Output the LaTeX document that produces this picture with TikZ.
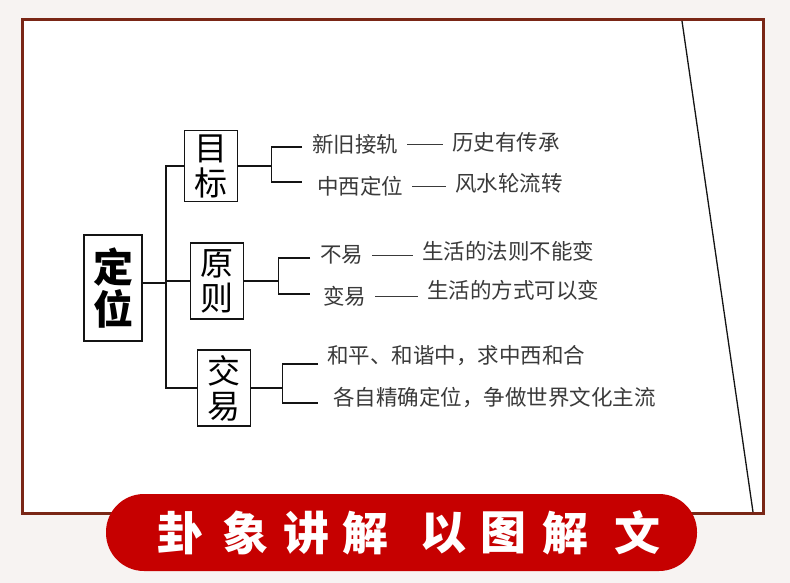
\documentclass[tikz,border=0pt]{standalone}
\usepackage{fontspec}
\setmainfont{Noto Sans CJK SC}
\usetikzlibrary{positioning}
\definecolor{Paper}{HTML}{F7F3F2}
\definecolor{Frame}{HTML}{7A2616}
\definecolor{Banner}{HTML}{C60000}
\definecolor{Ink}{HTML}{141414}
\definecolor{Lead}{HTML}{3A3A3A}
\tikzset{
  rootbox/.style={
    draw=Ink, line width=1.8pt, fill=white, inner sep=0pt,
    minimum width=58pt, minimum height=106pt, align=center,
    font=\fontsize{40}{42}\selectfont\bfseries
  },
  topicbox/.style={
    draw=Ink, line width=1.8pt, fill=white, inner sep=0pt,
    minimum width=53pt, minimum height=74pt, align=center,
    font=\fontsize{33}{35}\selectfont
  },
  item/.style={anchor=west, inner sep=0pt, text=Lead, font=\fontsize{21.5}{23}\selectfont},
  branch/.style={draw=Ink, line width=1.6pt},
  dashlink/.style={draw=Lead, line width=0.9pt, shorten <=9pt, shorten >=9pt},
  seal/.style={text=white, font=\fontsize{46}{48}\selectfont\bfseries}
}

\begin{document}
\begin{tikzpicture}[x=1pt,y=-1pt]
  \useasboundingbox (0,0) rectangle (790,583);
  % page and frame
  \fill[Paper] (0,0) rectangle (790,583);
  \fill[white] (22,20) rectangle (763,513);
  \draw[Frame, line width=3pt] (22,20) rectangle (763,513);
  \draw[Ink, line width=1.3pt] (682,21) -- (753,512);

  % tree
  \node[rootbox] (root) at (113,288) {定\\位};
  \node[topicbox, minimum height=71pt] (goal) at (211,166) {目\\标};
  \node[topicbox, minimum height=76pt] (rule) at (217,281) {原\\则};
  \node[topicbox, minimum height=76pt] (swap) at (224,388) {交\\易};
  \coordinate (spine) at (166,283);
  \draw[branch] (root.east |- spine) -- (spine);
  \draw[branch] (goal.west) -| (spine) |- (swap.west);
  \draw[branch] (spine |- rule.west) -- (rule.west);

  % goal items
  \node[item] (g1) at (312,144) {新旧接轨};
  \node[item] (g1r) at (452,142) {历史有传承};
  \node[item] (g2) at (317,186) {中西定位};
  \node[item] (g2r) at (455,183) {风水轮流转};
  \draw[branch] (goal.east) -- ++(33,0) coordinate (gfork);
  \draw[branch] (302,147) -| (gfork) |- (302,182);
  \draw[dashlink] (g1.east) -- (g1.east -| g1r.west);
  \draw[dashlink] (g2.east) -- (g2.east -| g2r.west);

  % rule items
  \node[item] (r1) at (320,255) {不易};
  \node[item] (r1r) at (422,251) {生活的法则不能变};
  \node[item] (r2) at (323,296) {变易};
  \node[item] (r2r) at (427,290) {生活的方式可以变};
  \draw[branch] (rule.east) -- ++(34,0) coordinate (rfork);
  \draw[branch] (310,258) -| (rfork) |- (310,294);
  \draw[dashlink] (r1.east) -- (r1.east -| r1r.west);
  \draw[dashlink] (r2.east) -- (r2.east -| r2r.west);

  % swap items
  \node[item] (s1) at (327,356) {和平、和谐中，求中西和合};
  \node[item] (s2) at (333,398) {各自精确定位，争做世界文化主流};
  \draw[branch] (swap.east) -- ++(31,0) coordinate (sfork);
  \draw[branch] (318,364) -| (sfork) |- (318,403);

  % banner
  \fill[Banner, rounded corners=38pt] (106,494) rectangle (697,571);
  \foreach \ch/\cx [count=\i] in {卦/180,象/245,讲/306,解/365,以/443,图/503,解/565,文/637}
    \node[seal] (seal\i) at (\cx,533) {\ch};
\end{tikzpicture}
\end{document}
